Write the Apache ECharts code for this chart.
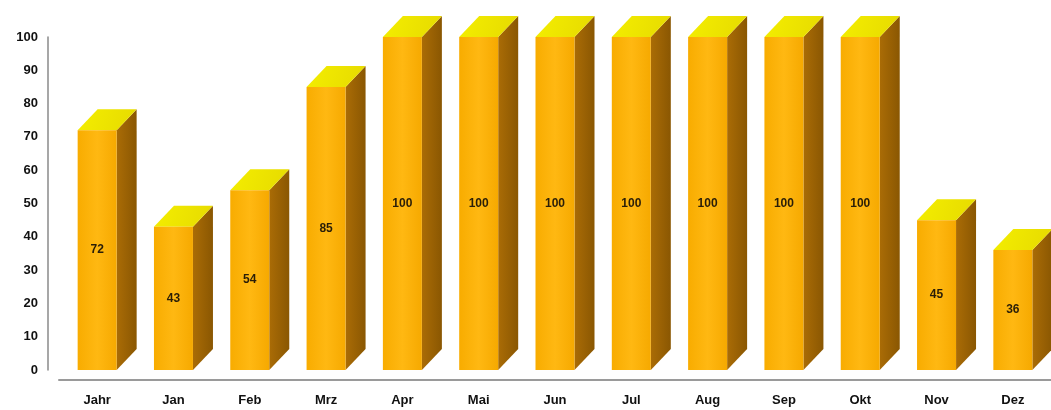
<!DOCTYPE html>
<html>
<head>
<meta charset="utf-8">
<script src="https://cdn.jsdelivr.net/npm/echarts@6/dist/echarts.min.js"></script>
<style>
  html, body { margin: 0; padding: 0; background: #fff; }
  #chart { width: 1051px; height: 410px; }
</style>
</head>
<body>
<div id="chart"></div>
<script>
// Monatswerte (Prozent) mit Jahreswert vorneweg
const categories = ['Jahr', 'Jan', 'Feb', 'Mrz', 'Apr', 'Mai', 'Jun', 'Jul', 'Aug', 'Sep', 'Okt', 'Nov', 'Dez'];
const values = [72, 43, 54, 85, 100, 100, 100, 100, 100, 100, 100, 45, 36];
const yTicks = [0, 10, 20, 30, 40, 50, 60, 70, 80, 90, 100];

const FONT = '"Liberation Sans", Arial, sans-serif';
const FRONT_W = 39;   // width of the front face
const DEPTH_X = 20;   // 3D depth offset
const DEPTH_Y = 21;

const chart = echarts.init(document.getElementById('chart'), null, { renderer: 'canvas' });

function renderBox(params, api) {
  const idx = api.value(0);
  const val = api.value(1);
  const top = api.coord([idx, val]);
  const base = api.coord([idx, 0]);
  const x0 = top[0] - FRONT_W / 2;
  const x1 = top[0] + FRONT_W / 2;
  const yT = top[1];
  const yB = base[1];
  return {
    type: 'group',
    children: [
      {
        type: 'polygon',
        shape: { points: [[x1, yB], [x1, yT], [x1 + DEPTH_X, yT - DEPTH_Y], [x1 + DEPTH_X, yB - DEPTH_Y]] },
        style: {
          fill: new echarts.graphic.LinearGradient(0, 0, 1, 0, [
            { offset: 0, color: '#AA6C06' },
            { offset: 1, color: '#8A5702' }
          ])
        }
      },
      {
        type: 'polygon',
        shape: { points: [[x0, yT], [x1, yT], [x1 + DEPTH_X, yT - DEPTH_Y], [x0 + DEPTH_X, yT - DEPTH_Y]] },
        style: {
          fill: new echarts.graphic.LinearGradient(0, 0, 1, 1, [
            { offset: 0, color: '#F4EE00' },
            { offset: 1, color: '#E6DA00' }
          ])
        }
      },
      {
        type: 'rect',
        shape: { x: x0, y: yT, width: FRONT_W, height: yB - yT },
        style: {
          fill: new echarts.graphic.LinearGradient(0, 0, 1, 0, [
            { offset: 0, color: '#F8AC00' },
            { offset: 0.5, color: '#FFB812' },
            { offset: 1, color: '#F6A900' }
          ])
        }
      },
      {
        type: 'text',
        style: {
          text: String(val),
          x: top[0],
          y: (yT + yB) / 2,
          align: 'center',
          verticalAlign: 'middle',
          fill: '#2A1E08',
          font: 'bold 12px ' + FONT
        }
      }
    ]
  };
}

chart.setOption({
  animation: false,
  backgroundColor: '#ffffff',
  grid: { left: 59, top: 37, bottom: 40, width: 994.5 },
  xAxis: {
    type: 'category',
    data: categories,
    offset: 10,
    axisLine: { onZero: false, lineStyle: { color: '#9A9A9A', width: 2 } },
    axisTick: { show: false },
    axisLabel: { color: '#111', fontFamily: FONT, fontWeight: 'bold', fontSize: 13, margin: 14 }
  },
  yAxis: {
    type: 'value',
    min: yTicks[0],
    max: yTicks[yTicks.length - 1],
    interval: 10,
    offset: 11,
    axisLine: { show: true, lineStyle: { color: '#8A8A8A', width: 1.5 } },
    axisTick: { show: false },
    splitLine: { show: false },
    axisLabel: { color: '#111', fontFamily: FONT, fontWeight: 'bold', fontSize: 13, margin: 10 }
  },
  series: [{
    type: 'custom',
    clip: false,
    renderItem: renderBox,
    encode: { x: 0, y: 1 },
    data: values.map((v, i) => [i, v])
  }]
});
</script>
</body>
</html>
